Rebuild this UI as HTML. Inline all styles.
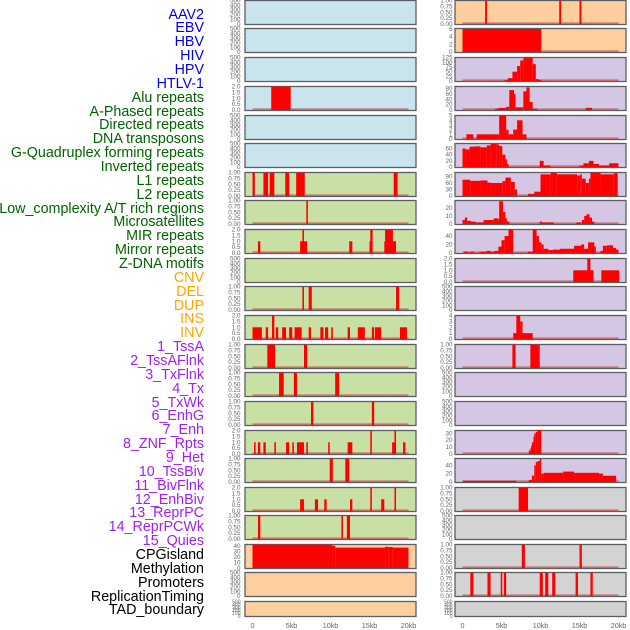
<!DOCTYPE html>
<html><head><meta charset="utf-8">
<style>
html,body{margin:0;padding:0;background:#fff;width:630px;height:630px;overflow:hidden}
#labels{position:absolute;left:0;top:0;width:204px;height:630px}
.lab{position:absolute;right:0;font-family:"Liberation Sans",sans-serif;font-size:14.3px;line-height:14px;white-space:nowrap}
svg{position:absolute;left:0;top:0}
</style></head>
<body>
<div id="labels"></div>
<svg id="chart" width="630" height="630"></svg>
<script>
const labelNames = ["AAV2","EBV","HBV","HIV","HPV","HTLV-1","Alu repeats","A-Phased repeats","Directed repeats","DNA transposons","G-Quadruplex forming repeats","Inverted repeats","L1 repeats","L2 repeats","Low_complexity A/T rich regions","Microsatellites","MIR repeats","Mirror repeats","Z-DNA motifs","CNV","DEL","DUP","INS","INV","1_TssA","2_TssAFlnk","3_TxFlnk","4_Tx","5_TxWk","6_EnhG","7_Enh","8_ZNF_Rpts","9_Het","10_TssBiv","11_BivFlnk","12_EnhBiv","13_ReprPC","14_ReprPCWk","15_Quies","CPGisland","Methylation","Promoters","ReplicationTiming","TAD_boundary"];
const labelGroups = [0,0,0,0,0,0,1,1,1,1,1,1,1,1,1,1,1,1,1,2,2,2,2,2,3,3,3,3,3,3,3,3,3,3,3,3,3,3,3,4,4,4,4,4];
const groupColors = ["#0000ee","#006400","#ffa500","#a020f0","#000000"];

const L3_alu = [[2.4,4.9,2]];
const L6_l1 = [[0,0.3,1],[1.4,2.0,1],[2.2,2.8,1],[4.2,4.7,1],[5.6,6.7,1],[18.1,18.6,1]];
const L7_lowc = [[6.9,7.1,1]];
const L8_mir = [[0.7,1.0,1],[6.1,7.0,1],[6.4,6.6,2],[12.4,12.8,1],[15.0,15.4,1],[15.1,15.4,2],[16.9,18.4,1],[17.0,18.0,2]];
const L10_del = [[6.4,6.6,1],[7.2,7.6,1],[18.4,18.8,1]];
const L11_inv = [[0,1.2,1],[1.7,2.0,1],[2.5,2.8,2],[3.0,3.3,1],[3.8,4.3,1],[4.7,5.1,1],[5.4,6.3,1],[7.2,7.5,1],[8.7,9.1,1],[9.3,9.7,1],[10.1,10.3,1],[12.2,12.5,1],[13.5,14.4,1],[15.3,15.6,1],[15.7,16.5,1],[18.9,19.8,1]];
const L12_tssa = [[1.9,2.9,1],[6.6,7.0,1]];
const L13_txflnk = [[3.4,4.0,1],[5.3,5.7,1],[10.6,11.1,1]];
const L14_txwk = [[7.5,7.8,1],[15.3,15.6,1]];
const L15_enh = [[0.2,0.4,1],[0.7,1.0,1],[1.4,1.7,1],[2.8,3.0,1],[4.3,4.7,1],[5.1,5.3,1],[5.7,6.6,1],[6.9,7.1,1],[9.7,9.9,1],[12.2,12.8,1],[15.1,15.3,2],[17.9,18.4,1],[18.2,18.4,2],[19.3,19.6,1]];
const L16_het = [[9.9,10.3,1],[11.9,12.4,1]];
const L17_bivflnk = [[6.1,6.6,1],[8.0,8.4,1],[9.2,9.5,1],[12.5,12.8,1],[15.1,15.3,2],[16.5,16.9,1],[18.2,18.4,2]];
const L18_reprpc = [[0.7,1.0,1],[11.4,11.6,1],[12.1,12.5,1]];
const L19_cpg = [[0,10.2,43],[10.2,10.6,41],[10.6,17.0,37.5],[17.0,17.4,39],[17.4,18.0,38.5],[18.0,20.0,37.5]];

const R0_aav2 = [[2.9,3.15,1],[12.4,12.65,1],[15.0,15.25,1]];
const R1_ebv = [[0,10.1,6]];
const R2_hiv = [[5.4,5.8,5],[5.8,6.4,15],[6.4,7.0,50],[7.0,7.4,80],[7.4,7.8,110],[7.8,9.0,125],[9.0,9.4,90],[9.4,9.8,10],[9.8,10.1,5]];
const R3_hpv = [[4.2,4.6,5],[4.6,5.6,8],[5.6,6.0,12],[6.0,6.6,75],[6.6,6.8,60],[6.8,7.8,10],[7.8,8.2,70],[8.2,8.6,85],[8.6,9.0,30],[9.0,9.6,5],[15.8,16.6,8]];
const R4_alu = [[0.5,1.4,1],[1.8,4.7,1],[4.7,5.6,5],[5.6,5.9,2],[5.9,6.5,1],[6.5,7.0,2],[7.0,7.7,4],[7.7,8.2,1]];
const R5_gq = [[0,0.4,60],[0.4,0.9,57],[0.9,1.6,66],[1.6,2.3,67],[2.3,3.1,64],[3.1,3.6,70],[3.6,4.4,75],[4.4,4.7,73],[4.7,5.1,68],[5.1,5.5,40],[5.5,5.7,25],[5.7,5.9,10],[9.9,10.4,20],[10.4,11.3,5],[15.0,15.5,5],[15.5,16.2,12],[16.2,16.8,20],[16.8,17.5,10],[17.5,18.8,5],[18.8,20.0,12]];
const R6_l1 = [[0,1.0,75],[1.0,2.3,70],[2.3,3.2,72],[3.2,3.6,62],[3.6,5.1,60],[5.1,5.5,68],[5.5,6.2,85],[6.2,6.7,65],[6.7,7.0,30],[8.4,9.2,10],[9.2,10.0,20],[10.0,11.3,100],[11.3,12.1,108],[12.1,14.7,100],[14.7,15.1,95],[15.1,15.3,100],[15.3,15.8,80],[15.8,16.2,60],[16.2,16.4,80],[16.4,17.7,108],[17.7,19.4,100],[19.4,19.9,105]];
const R7_l2 = [[0,0.3,5],[0.3,0.6,8],[0.6,1.1,4],[1.1,1.7,3],[1.7,2.7,2],[2.7,4.0,5],[4.0,4.6,7],[4.6,4.7,6],[4.7,5.2,28],[5.2,5.5,15],[5.5,5.7,7],[5.7,6.0,3],[9.9,10.2,3],[10.2,11.7,2],[14.6,15.2,2],[15.3,15.6,5],[15.6,15.9,10],[15.9,16.3,12],[16.3,16.6,8],[16.6,16.9,3]];
const R8_mir = [[0.2,0.8,3],[1.0,1.4,3],[2.2,3.1,3],[3.1,3.6,5],[3.6,4.1,3],[4.1,4.6,5],[4.6,5.0,15],[5.0,5.4,30],[5.4,5.9,40],[5.9,6.5,55],[8.4,9.0,3],[9.0,9.5,55],[9.5,9.8,40],[9.8,10.1,25],[10.1,10.4,20],[10.4,11.0,10],[11.0,11.6,7],[11.6,12.5,8],[12.5,14.3,10],[14.3,15.2,17],[15.2,15.6,20],[15.6,16.1,10],[16.1,16.9,25],[16.9,17.1,15],[17.7,18.0,5],[18.0,18.5,17],[18.5,19.3,18],[19.3,19.7,12],[19.7,20.0,8]];
const R9_mirror = [[14.2,16.8,1],[16.0,16.4,2],[17.8,20.1,1]];
const R11_ins = [[6.5,9.0,1],[6.9,7.4,4],[7.4,7.7,3]];
const R12_inv = [[6.4,6.8,1],[8.7,9.9,1]];
const R15_enh = [[8.5,8.7,5],[8.7,8.8,8],[8.8,8.9,12],[8.9,9.1,17],[9.1,9.2,25],[9.2,9.4,30],[9.4,9.6,32],[9.6,10.1,35]];
const R16_tssbiv = [[0,6.9,3],[8.5,8.9,5],[8.9,9.2,15],[9.2,9.4,40],[9.4,9.6,48],[9.6,9.9,50],[9.9,10.1,55],[10.1,10.4,20],[10.4,12.9,22],[12.9,14.3,25],[14.3,17.5,22],[17.5,18.0,20],[18.0,19.7,15]];
const R17_enhbiv = [[7.2,8.4,1]];
const R19_cpg = [[7.6,8.0,1],[15.0,15.3,1]];
const R20_meth = [[1.0,1.4,1],[3.2,3.6,1],[4.9,5.1,1],[5.3,5.6,1],[9.9,10.3,1],[10.6,11.0,1],[11.5,11.9,1],[14.5,14.8,1],[16.4,16.7,1]];

const ticksEmpty = [0,100,200,300,400,500];
const ticks1 = [0,0.25,0.5,0.75,1];
const ticks2 = [0,0.5,1,1.5,2];
const ticksCpg = [0,10,20,30,40];
const xTickKb = [0,5,10,15,20];
const xTickLabels = ["0","5kb","10kb","15kb","20kb"];

const BG = {b:"#c9e4ec",p:"#fdcf9e",l:"#d5c6e3",g:"#c9e0a5",y:"#d3d3d3"};
const rowTops = [0,28,57,86,115,143,172,200,229,258,286,315,344,372,401,430,458,487,515,544,572,601];

const panels = [
 ["L",0,"b",500,ticksEmpty,0,null],["L",1,"b",500,ticksEmpty,0,null],["L",2,"b",500,ticksEmpty,0,null],
 ["L",3,"b",2,ticks2,1,L3_alu],["L",4,"b",500,ticksEmpty,0,null],["L",5,"b",500,ticksEmpty,0,null],
 ["L",6,"g",1,ticks1,2,L6_l1],["L",7,"g",1,ticks1,2,L7_lowc],["L",8,"g",2,ticks2,1,L8_mir],
 ["L",9,"g",500,ticksEmpty,0,null],["L",10,"g",1,ticks1,2,L10_del],["L",11,"g",2,ticks2,1,L11_inv],
 ["L",12,"g",1,ticks1,2,L12_tssa],["L",13,"g",1,ticks1,2,L13_txflnk],["L",14,"g",1,ticks1,2,L14_txwk],
 ["L",15,"g",2,ticks2,1,L15_enh],["L",16,"g",1,ticks1,2,L16_het],["L",17,"g",2,ticks2,1,L17_bivflnk],
 ["L",18,"g",1,ticks1,2,L18_reprpc],["L",19,"p",43,ticksCpg,0,L19_cpg],["L",20,"p",500,ticksEmpty,0,null],["L",21,"p",500,ticksEmpty,0,null],
 ["R",0,"p",1,ticks1,2,R0_aav2],["R",1,"p",6.1,[0,2,4,6],0,R1_ebv],["R",2,"l",125,[0,25,50,75,100,125],0,R2_hiv],
 ["R",3,"l",88,[0,20,40,60,80],0,R3_hpv],["R",4,"l",5,[0,1,2,3,4,5],0,R4_alu],["R",5,"l",76,[0,20,40,60],0,R5_gq],
 ["R",6,"l",108,[0,30,60,90],0,R6_l1],["R",7,"l",29,[0,10,20],0,R7_l2],["R",8,"l",55,[0,20,40],0,R8_mir],
 ["R",9,"l",2,ticks2,1,R9_mirror],["R",10,"l",500,ticksEmpty,0,null],["R",11,"l",4,[0,1,2,3,4],0,R11_ins],
 ["R",12,"l",1,ticks1,2,R12_inv],["R",13,"l",500,ticksEmpty,0,null],["R",14,"l",500,ticksEmpty,0,null],
 ["R",15,"l",34,[0,10,20,30],0,R15_enh],["R",16,"l",56,[0,20,40],0,R16_tssbiv],["R",17,"y",1,ticks1,2,R17_enhbiv],
 ["R",18,"y",500,ticksEmpty,0,null],["R",19,"y",1,ticks1,2,R19_cpg],["R",20,"y",1,ticks1,2,R20_meth],["R",21,"y",500,ticksEmpty,0,null]
];

const labDiv = document.getElementById('labels');
labelNames.forEach((n,i)=>{
  const d=document.createElement('div');
  d.className='lab';
  d.textContent=n;
  d.style.top=(15+i*13.86-7.5)+'px';
  d.style.color=groupColors[labelGroups[i]];
  
  
  labDiv.appendChild(d);
});

const NS="http://www.w3.org/2000/svg";
const svg=document.getElementById('chart');
function mk(tag,attrs){const e=document.createElementNS(NS,tag);for(const k in attrs)e.setAttribute(k,attrs[k]);return e;}
const colX={L:{left:245,right:416,x0:252.5,tickX:240.5},R:{left:455,right:626,x0:462.5,tickX:452.5}};
const pxPerKb=7.8;
function xScale(col,kb){return colX[col].x0+kb*pxPerKb;}

panels.forEach(p=>{
  const [col,row,bg,ymax,ticks,dec,data]=p;
  const T=rowTops[row];
  const H=(row===21)?16:25;
  const c=colX[col];
  const yBot=T+H-1, yTop=T+0.6;
  const yScale=v=>yBot-(v/ymax)*(yBot-yTop);
  const g=mk('g',{});
  
  
  const r=mk('rect',{x:c.left,y:T+0.5,width:c.right-c.left,height:H-1,fill:BG[bg],stroke:'#5a5f63','stroke-width':1.3});
  
  
  g.appendChild(r);
  if(data){
    const base=mk('line',{x1:xScale(col,0),x2:xScale(col,20),y1:yBot-0.8,y2:yBot-0.8,stroke:'#d05050','stroke-width':1.6,'stroke-opacity':0.75});
    
    
    g.appendChild(base);
    data.forEach(s=>{
      const x1=xScale(col,s[0]),x2=xScale(col,s[1]);
      const y=yScale(s[2]);
      const b=mk('rect',{x:x1,y:y,width:Math.max(1.5,x2-x1),height:yBot-y,fill:'#ff0000'});
      
      
      g.appendChild(b);
    });
  }
  ticks.forEach(t=>{
    const tx=mk('text',{x:c.tickX,y:yScale(t)+2,'text-anchor':'end','font-size':(H<20?5:6.3),fill:'#666','font-family':'Liberation Sans, sans-serif'});
    tx.textContent=t.toFixed(dec);
    
    
    g.appendChild(tx);
  });
  svg.appendChild(g);
});

["L","R"].forEach(col=>{
  xTickKb.forEach((kb,i)=>{
    const t=mk('text',{x:xScale(col,kb),y:628,'text-anchor':'middle','font-size':7.2,fill:'#666','font-family':'Liberation Sans, sans-serif'});
    t.textContent=xTickLabels[i];
    
    
    svg.appendChild(t);
  });
});
</script>
</body></html>
